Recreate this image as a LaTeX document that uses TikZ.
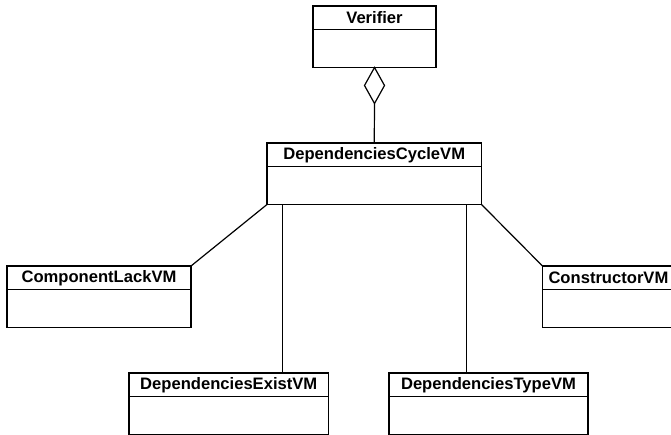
\documentclass[tikz,border=0pt]{standalone}
\usepackage{fontspec}
\setmainfont{Liberation Sans}
\usepackage{tikz}
\usetikzlibrary{shapes.geometric, positioning}

\begin{document}
\begin{tikzpicture}[
        x=1pt, y=-1pt,
        line width=1.2pt,
        classname/.style={draw, anchor=north west, inner sep=0pt, outer sep=0pt,
            minimum height=23.5pt, font=\fontsize{16.6}{20}\selectfont\bfseries},
        classbody/.style={draw, anchor=north west, inner sep=0pt, outer sep=0pt,
            minimum height=38pt}
    ]
        \useasboundingbox (0,0) rectangle (671,435);
        \clip (0,0) rectangle (671,435);

        % classes
        \node[classname, minimum width=123pt] (verifier) at (313,6) {Verifier};
        \node[classbody, minimum width=123pt] (verifier body) at (verifier.south west) {};

        \node[classname, minimum width=214.5pt] (cycle) at (267,143) {DependenciesCycleVM};
        \node[classbody, minimum width=214.5pt] (cycle body) at (cycle.south west) {};

        \node[classname, minimum width=184pt] (lack) at (7,266) {ComponentLackVM};
        \node[classbody, minimum width=184pt] (lack body) at (lack.south west) {};

        \node[classname, minimum width=140pt, text width=128pt, align=left] (ctor) at (542.5,266) {ConstructorVM};
        \node[classbody, minimum width=140pt] (ctor body) at (ctor.south west) {};

        \node[classname, minimum width=199.5pt] (exist) at (129,373) {DependenciesExistVM};
        \node[classbody, minimum width=199.5pt] (exist body) at (exist.south west) {};

        \node[classname, minimum width=199pt] (type) at (389,373) {DependenciesTypeVM};
        \node[classbody, minimum width=199pt] (type body) at (type.south west) {};

        % aggregation
        \node[diamond, draw, fill=white, inner sep=0pt, outer sep=0pt,
            minimum width=20pt, minimum height=36pt, anchor=north] (agg) at (verifier body.south) {};
        \draw (agg.south) -- (cycle.north);

        % links
        \coordinate (cycle left) at ([xshift=15.3pt]cycle body.south west);
        \coordinate (cycle right) at ([xshift=-15.4pt]cycle body.south east);

        \draw (cycle body.south west) -- (lack.north east);
        \draw (cycle body.south east) -- (ctor.north west);
        \draw (cycle left) -- (cycle left |- exist.north);
        \draw (cycle right) -- (cycle right |- type.north);

    \end{tikzpicture}
\end{document}
